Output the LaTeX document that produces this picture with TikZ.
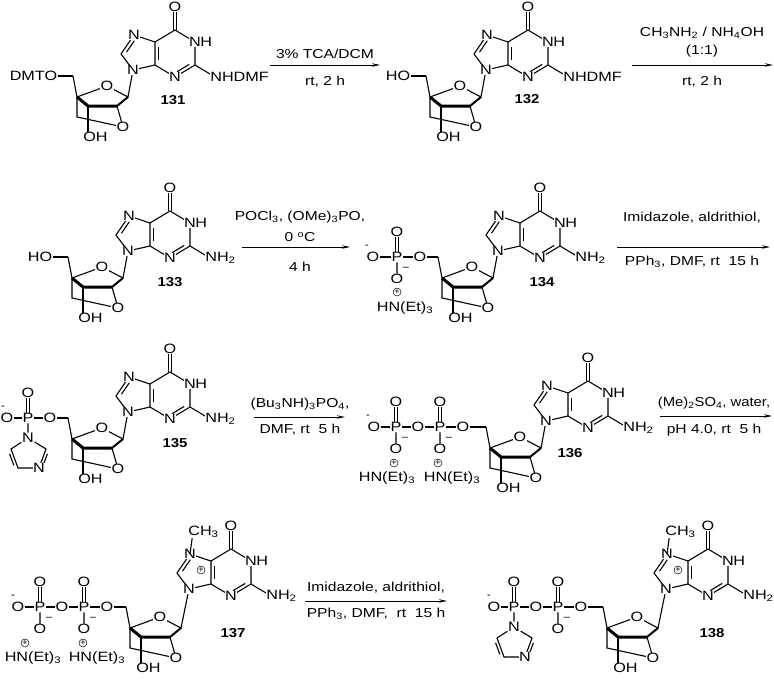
\documentclass[tikz,border=0pt]{standalone}
\usepackage{fontspec}
\setmainfont{Liberation Sans}
\usetikzlibrary{calc,arrows.meta}
\newcommand\sbs[1]{\textsubscript{#1}}
\tikzset{
 bond/.style={line width=1.1pt},
 boldb/.style={line width=3pt},
 atom/.style={fill=white,inner sep=0.5pt,font=\fontsize{13.5}{14}\selectfont,xscale=1.2,transform shape},
 lab/.style={font=\fontsize{13}{14}\selectfont\bfseries,xscale=1.15,transform shape},
 cond/.style={font=\fontsize{13}{14}\selectfont,inner sep=0pt,xscale=1.2,transform shape},
 rxn/.style={line width=0.9pt,-{Stealth[length=8pt,width=3.5pt]}},
 chg/.style={font=\fontsize{11}{11}\selectfont,inner sep=0pt},
 plus/.style={circle,draw,line width=0.5pt,inner sep=0.2pt,font=\fontsize{9}{9}\selectfont}
}
\newcommand\dbl[3]{\draw[bond] ($(#1)!0.2!(#2)!#3!90:(#2)$) -- ($(#2)!0.2!(#1)!#3!-90:(#1)$);}
\newcommand\nuc[6]{%
\begin{scope}[shift={(#1,#2)}]
 \coordinate (c4p) at (0,0);
 \coordinate (c5p) at (-4,-21);
 \coordinate (rO) at (30,-11);
 \coordinate (c1p) at (51,0);
 \coordinate (c3p) at (11,9);
 \coordinate (c2p) at (40,9);
 \coordinate (ch2) at (0,20);
 \coordinate (bO) at (46,30);
 \coordinate (oh) at (11,40);
 \begin{scope}[shift={(#3,#4)}]
  \coordinate (n9) at (56,-27);
  \coordinate (c4) at (78,-32);
  \coordinate (c5) at (78,-55);
  \coordinate (n7) at (57,-62);
  \coordinate (c8) at (44,-43);
  \coordinate (c6) at (98,-67);
  \coordinate (o6) at (98,-90);
  \coordinate (n1) at (118,-55);
  \coordinate (c2) at (118,-32);
  \coordinate (n3) at (98,-20);
  \coordinate (nx) at (138,-20);
  \coordinate (me) at (60,-84);
  \coordinate (pl) at (68,-46);
 \end{scope}
 \draw[bond] (c4p)--(rO)--(c1p)--(n9)--(c4)--(c5)--(n7)--(c8)--(n9);
 \draw[bond] (c5)--(c6)--(n1)--(c2)--(n3)--(c4);
 \draw[bond] ([xshift=-1.8pt]c6)--([xshift=-1.8pt]o6);
 \draw[bond] ([xshift=1.8pt]c6)--([xshift=1.8pt]o6);
 \draw[bond] (c2)--(nx);
 \draw[bond] (c5p)--(c4p)--(ch2)--(bO)--(c2p);
 \draw[bond] (c3p)--(oh);
 \draw[boldb] (c4p)--(c3p)--(c2p);
 \draw[line width=2pt] (c2p)--(c1p);
 \dbl{c4}{c5}{-3.5pt}
 \dbl{c2}{n3}{-3.5pt}
 \dbl{c8}{n7}{-3.5pt}
 \node[atom] at (rO) {O};
 \node[atom] at (bO) {O};
 \node[atom,anchor=west] at ([xshift=-5.5pt]oh) {OH};
 \node[atom] at (n9) {N};
 \node[atom] at (n7) {N};
 \node[atom] at (n3) {N};
 \node[atom] at (n1) {N};
 \node[atom,anchor=west,fill=none] at ([xshift=4.5pt]n1) {H};
 \node[atom] at (o6) {O};
 \node[atom,anchor=west] at ([xshift=-5.5pt]nx) {#5};
 \ifnum#6=1
  \draw[bond] (n7)--(me);
  \node[atom,anchor=west] at ([xshift=-5.5pt]me) {CH\sbs{3}};
  \node[plus] at (pl) {+};
 \fi
\end{scope}}
\newcommand\phos[3]{%
 \node[atom] (#1) at (#2,#3) {P};
 \node[atom] (#1t) at (#2,#3-25) {O};
 \draw[bond] ([xshift=-1.5pt]#1.north) -- ([xshift=-1.5pt]#1t.south);
 \draw[bond] ([xshift=1.5pt]#1.north) -- ([xshift=1.5pt]#1t.south);}
\newcommand\phosb[3]{%
 \node[atom] (#1b) at (#2,#3+22) {O};
 \draw[bond] (#1) -- (#1b);
 \node[chg] at (#2+9,#3+12) {--};}
\newcommand\imid[3]{%
 \node[atom] (#1n) at (#2,#3+20) {N};
 \coordinate (#1c2) at (#2+18,#3+31);
 \coordinate (#1n3) at (#2+11,#3+50);
 \coordinate (#1c4) at (#2-10,#3+50);
 \coordinate (#1c5) at (#2-17,#3+31);
 \draw[bond] (#1) -- (#1n);
 \draw[bond] (#1n) -- (#1c2) -- (#1n3) -- (#1c4) -- (#1c5) -- (#1n);
 \dbl{#1c2}{#1n3}{3pt}
 \dbl{#1c4}{#1c5}{3pt}
 \node[atom] at (#1n3) {N};
 \node[atom] at (#1n) {N};}
\begin{document}
\begin{tikzpicture}[x=1pt,y=-1pt]
\useasboundingbox (0,0) rectangle (774,680);
% ---- 131
\nuc{77}{97}{0}{0}{NHDMF}{0}
\node[atom,anchor=east] (dmto) at (58,76) {DMTO};
\draw[bond] (dmto) -- (c5p);
\node[lab] at (173,100) {131};
% ---- 132
\nuc{430}{97}{0}{0}{NHDMF}{0}
\node[atom,anchor=east] (ho2) at (411,76) {HO};
\draw[bond] (ho2) -- (c5p);
\node[lab] at (527,99) {132};
% ---- 133
\nuc{72}{278}{0}{0}{NH\sbs{2}}{0}
\node[atom,anchor=east] (ho3) at (53,257) {HO};
\draw[bond] (ho3) -- (c5p);
\node[lab] at (170,282) {133};
% ---- 134
\nuc{442}{278}{0}{0}{NH\sbs{2}}{0}
\node[atom] (o5d) at (420,257) {O};
\phos{pd}{397}{257}
\phosb{pd}{397}{257}
\node[atom] (old) at (373,257) {O};
\draw[bond] (old)--(pd)--(o5d)--(c5p);
\node[chg] at (367,247) {-};
\node[plus] at (397,292) {+};
\node[atom,fill=none] at (405,308) {HN(Et)\sbs{3}};
\node[lab] at (542,282) {134};
% ---- 135
\nuc{72}{439}{0}{0}{NH\sbs{2}}{0}
\node[atom] (o5e) at (50,418) {O};
\phos{pe}{28}{418}
\node[atom] (ole) at (7,418) {O};
\draw[bond] (ole)--(pe)--(o5e)--(c5p);
\node[chg] at (3,408) {-};
\imid{pe}{28}{418}
\node[lab] at (175,443) {135};
% ---- 136
\nuc{490}{448}{0}{0}{NH\sbs{2}}{0}
\node[atom] (o5f) at (463,427) {O};
\phos{pf2}{440}{427}
\phosb{pf2}{440}{427}
\node[atom] (obf) at (418,427) {O};
\phos{pf1}{396}{427}
\phosb{pf1}{396}{427}
\node[atom] (olf) at (374,427) {O};
\draw[bond] (olf)--(pf1)--(obf)--(pf2)--(o5f)--(c5p);
\node[chg] at (368,417) {-};
\node[plus] at (394,463) {+};
\node[plus] at (438,463) {+};
\node[atom,fill=none] at (387,478) {HN(Et)\sbs{3}};
\node[atom,fill=none] at (452,478) {HN(Et)\sbs{3}};
\node[lab] at (570,453) {136};
% ---- 137
\nuc{130}{628}{3}{-12}{NH\sbs{2}}{1}
\node[atom] (o5g) at (107,607) {O};
\phos{pg2}{84}{607}
\phosb{pg2}{84}{607}
\node[atom] (obg) at (62,607) {O};
\phos{pg1}{40}{607}
\phosb{pg1}{40}{607}
\node[atom] (olg) at (18,607) {O};
\draw[bond] (olg)--(pg1)--(obg)--(pg2)--(o5g)--(c5p);
\node[chg] at (13,597) {-};
\node[plus] at (25,643) {+};
\node[plus] at (83,643) {+};
\node[atom,fill=none] at (33,658) {HN(Et)\sbs{3}};
\node[atom,fill=none] at (97,658) {HN(Et)\sbs{3}};
\node[lab] at (233,633) {137};
% ---- 138
\nuc{607}{628}{3}{-12}{NH\sbs{2}}{1}
\node[atom] (o5h) at (581,607) {O};
\phos{ph2}{558}{607}
\phosb{ph2}{558}{607}
\node[atom] (obh) at (536,607) {O};
\phos{ph1}{514}{607}
\node[atom] (olh) at (494,607) {O};
\draw[bond] (olh)--(ph1)--(obh)--(ph2)--(o5h)--(c5p);
\node[chg] at (489,597) {-};
\imid{ph1}{514}{607}
\node[lab] at (712,633) {138};
% ---- arrows
\coordinate (a1s) at (270,65); \coordinate (a1e) at (380,65);
\draw[rxn] (a1s) -- (a1e);
\node[cond] at (325,54) {3\% TCA/DCM};
\node[cond] at (325,82) {rt, 2 h};
\coordinate (a2s) at (632,65); \coordinate (a2e) at (773,65);
\draw[rxn] (a2s) -- (a2e);
\node[cond] at (702,33) {CH\sbs{3}NH\sbs{2} / NH\sbs{4}OH};
\node[cond] at (702,51) {(1:1)};
\node[cond] at (702,82) {rt, 2 h};
\coordinate (a3s) at (242,247); \coordinate (a3e) at (350,247);
\draw[rxn] (a3s) -- (a3e);
\node[cond] at (300,217) {POCl\sbs{3}, (OMe)\sbs{3}PO,};
\node[cond] at (300,237) {0 \textsuperscript{o}C};
\node[cond] at (300,267) {4 h};
\coordinate (a4s) at (617,247); \coordinate (a4e) at (770,247);
\draw[rxn] (a4s) -- (a4e);
\node[cond] at (692,218) {Imidazole, aldrithiol,};
\node[cond] at (692,262) {PPh\sbs{3}, DMF, rt\ \ 15 h};
\coordinate (a5s) at (254,417); \coordinate (a5e) at (345,417);
\draw[rxn] (a5s) -- (a5e);
\node[cond] at (300,404) {(Bu\sbs{3}NH)\sbs{3}PO\sbs{4},};
\node[cond] at (300,430) {DMF, rt\ \ 5 h};
\coordinate (a6s) at (660,416); \coordinate (a6e) at (772,416);
\draw[rxn] (a6s) -- (a6e);
\node[cond,xscale=0.95] at (714,403) {(Me)\sbs{2}SO\sbs{4}, water,};
\node[cond] at (714,430) {pH 4.0, rt\ \ 5 h};
\coordinate (a7s) at (305,601); \coordinate (a7e) at (447,601);
\draw[rxn] (a7s) -- (a7e);
\node[cond] at (376,588) {Imidazole, aldrithiol,};
\node[cond] at (376,614) {PPh\sbs{3}, DMF,\ \ rt\ \ 15 h};
\end{tikzpicture}
\end{document}
